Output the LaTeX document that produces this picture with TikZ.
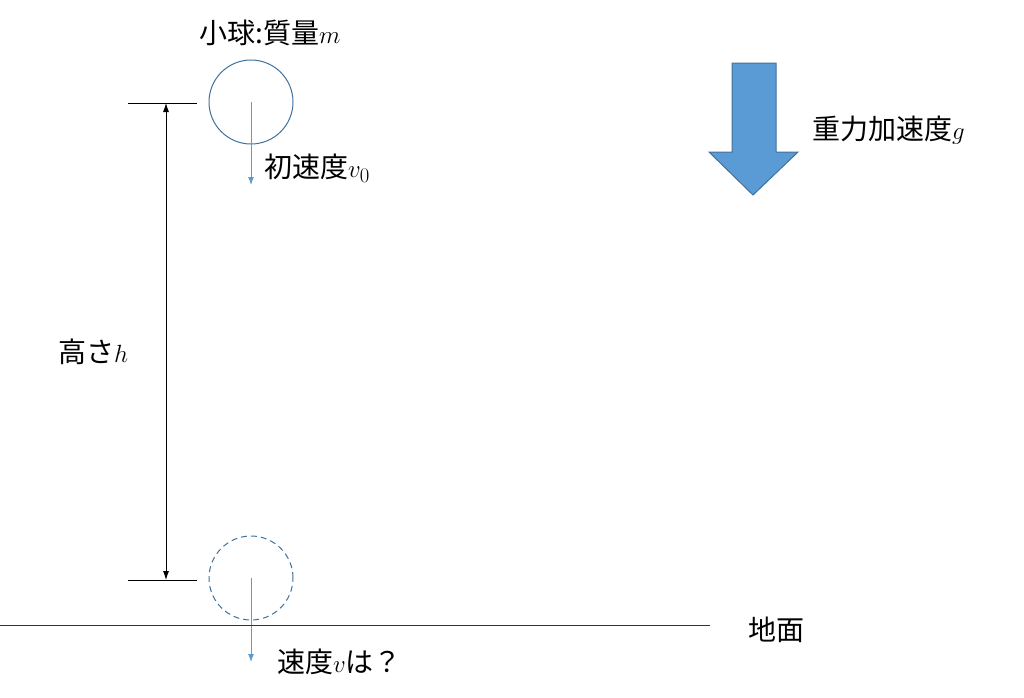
\documentclass[tikz,border=0pt]{standalone}
\usepackage{fontspec}
\setmainfont{Noto Sans CJK JP}
\usetikzlibrary{arrows.meta}
\definecolor{ball}{HTML}{41719C}
\definecolor{vel}{HTML}{5B9BD5}
\tikzset{
  lbl/.style={font=\fontsize{28}{32}\selectfont, inner sep=0pt},
  vec/.style={vel, line width=1pt, -{Latex[length=8pt,width=6pt]}},
  tick/.style={black, line width=0.8pt}
}
\begin{document}
\begin{tikzpicture}[x=1pt,y=-1pt]
\useasboundingbox (0,0) rectangle (1024,697);
% top ball
\node[circle, draw=ball, line width=1pt, minimum size=84pt, inner sep=0pt] (b1) at (251,102) {};
\coordinate (v1) at (251,185);
\draw[vec] (b1.center) -- (v1);
\node[lbl, anchor=west] (t1) at (264,168) {初速度$v_0$};
\node[lbl] (t0) at (270,33) {小球:質量$m$};
% bottom ball
\node[circle, draw=ball, dash pattern=on 6pt off 4pt, line width=1pt, minimum size=84pt, inner sep=0pt] (b2) at (251,578) {};
\coordinate (v2) at (251,662);
\draw[vec] (b2.center) -- (v2);
\node[lbl, anchor=west] (t2) at (277,662) {速度$v$は？};
% height
\coordinate (h1a) at (128,103); \coordinate (h1b) at (197,103);
\coordinate (h2a) at (128,580); \coordinate (h2b) at (197,580);
\draw[tick] (h1a) -- (h1b);
\draw[tick] (h2a) -- (h2b);
\coordinate (ha) at (166,103); \coordinate (hb) at (166,580);
\draw[tick, {Latex[length=9pt,width=6pt]}-{Latex[length=9pt,width=6pt]}] (ha) -- (hb);
\node[lbl, anchor=west] (th) at (58,352) {高さ$h$};
% ground
\coordinate (g1) at (0,625); \coordinate (g2) at (710,625);
\draw[black!80, line width=0.8pt] (g1) -- (g2);
\node[lbl, anchor=west] (tg) at (748,630) {地面};
% gravity arrow
\draw[fill=vel, draw=ball, line width=1pt] (732,63) -- (776,63) -- (776,152) -- (798,152) -- (753,195) -- (709,152) -- (732,152) -- cycle;
\node[lbl, anchor=west] (tgr) at (812,130) {重力加速度$g$};
\end{tikzpicture}
\end{document}
